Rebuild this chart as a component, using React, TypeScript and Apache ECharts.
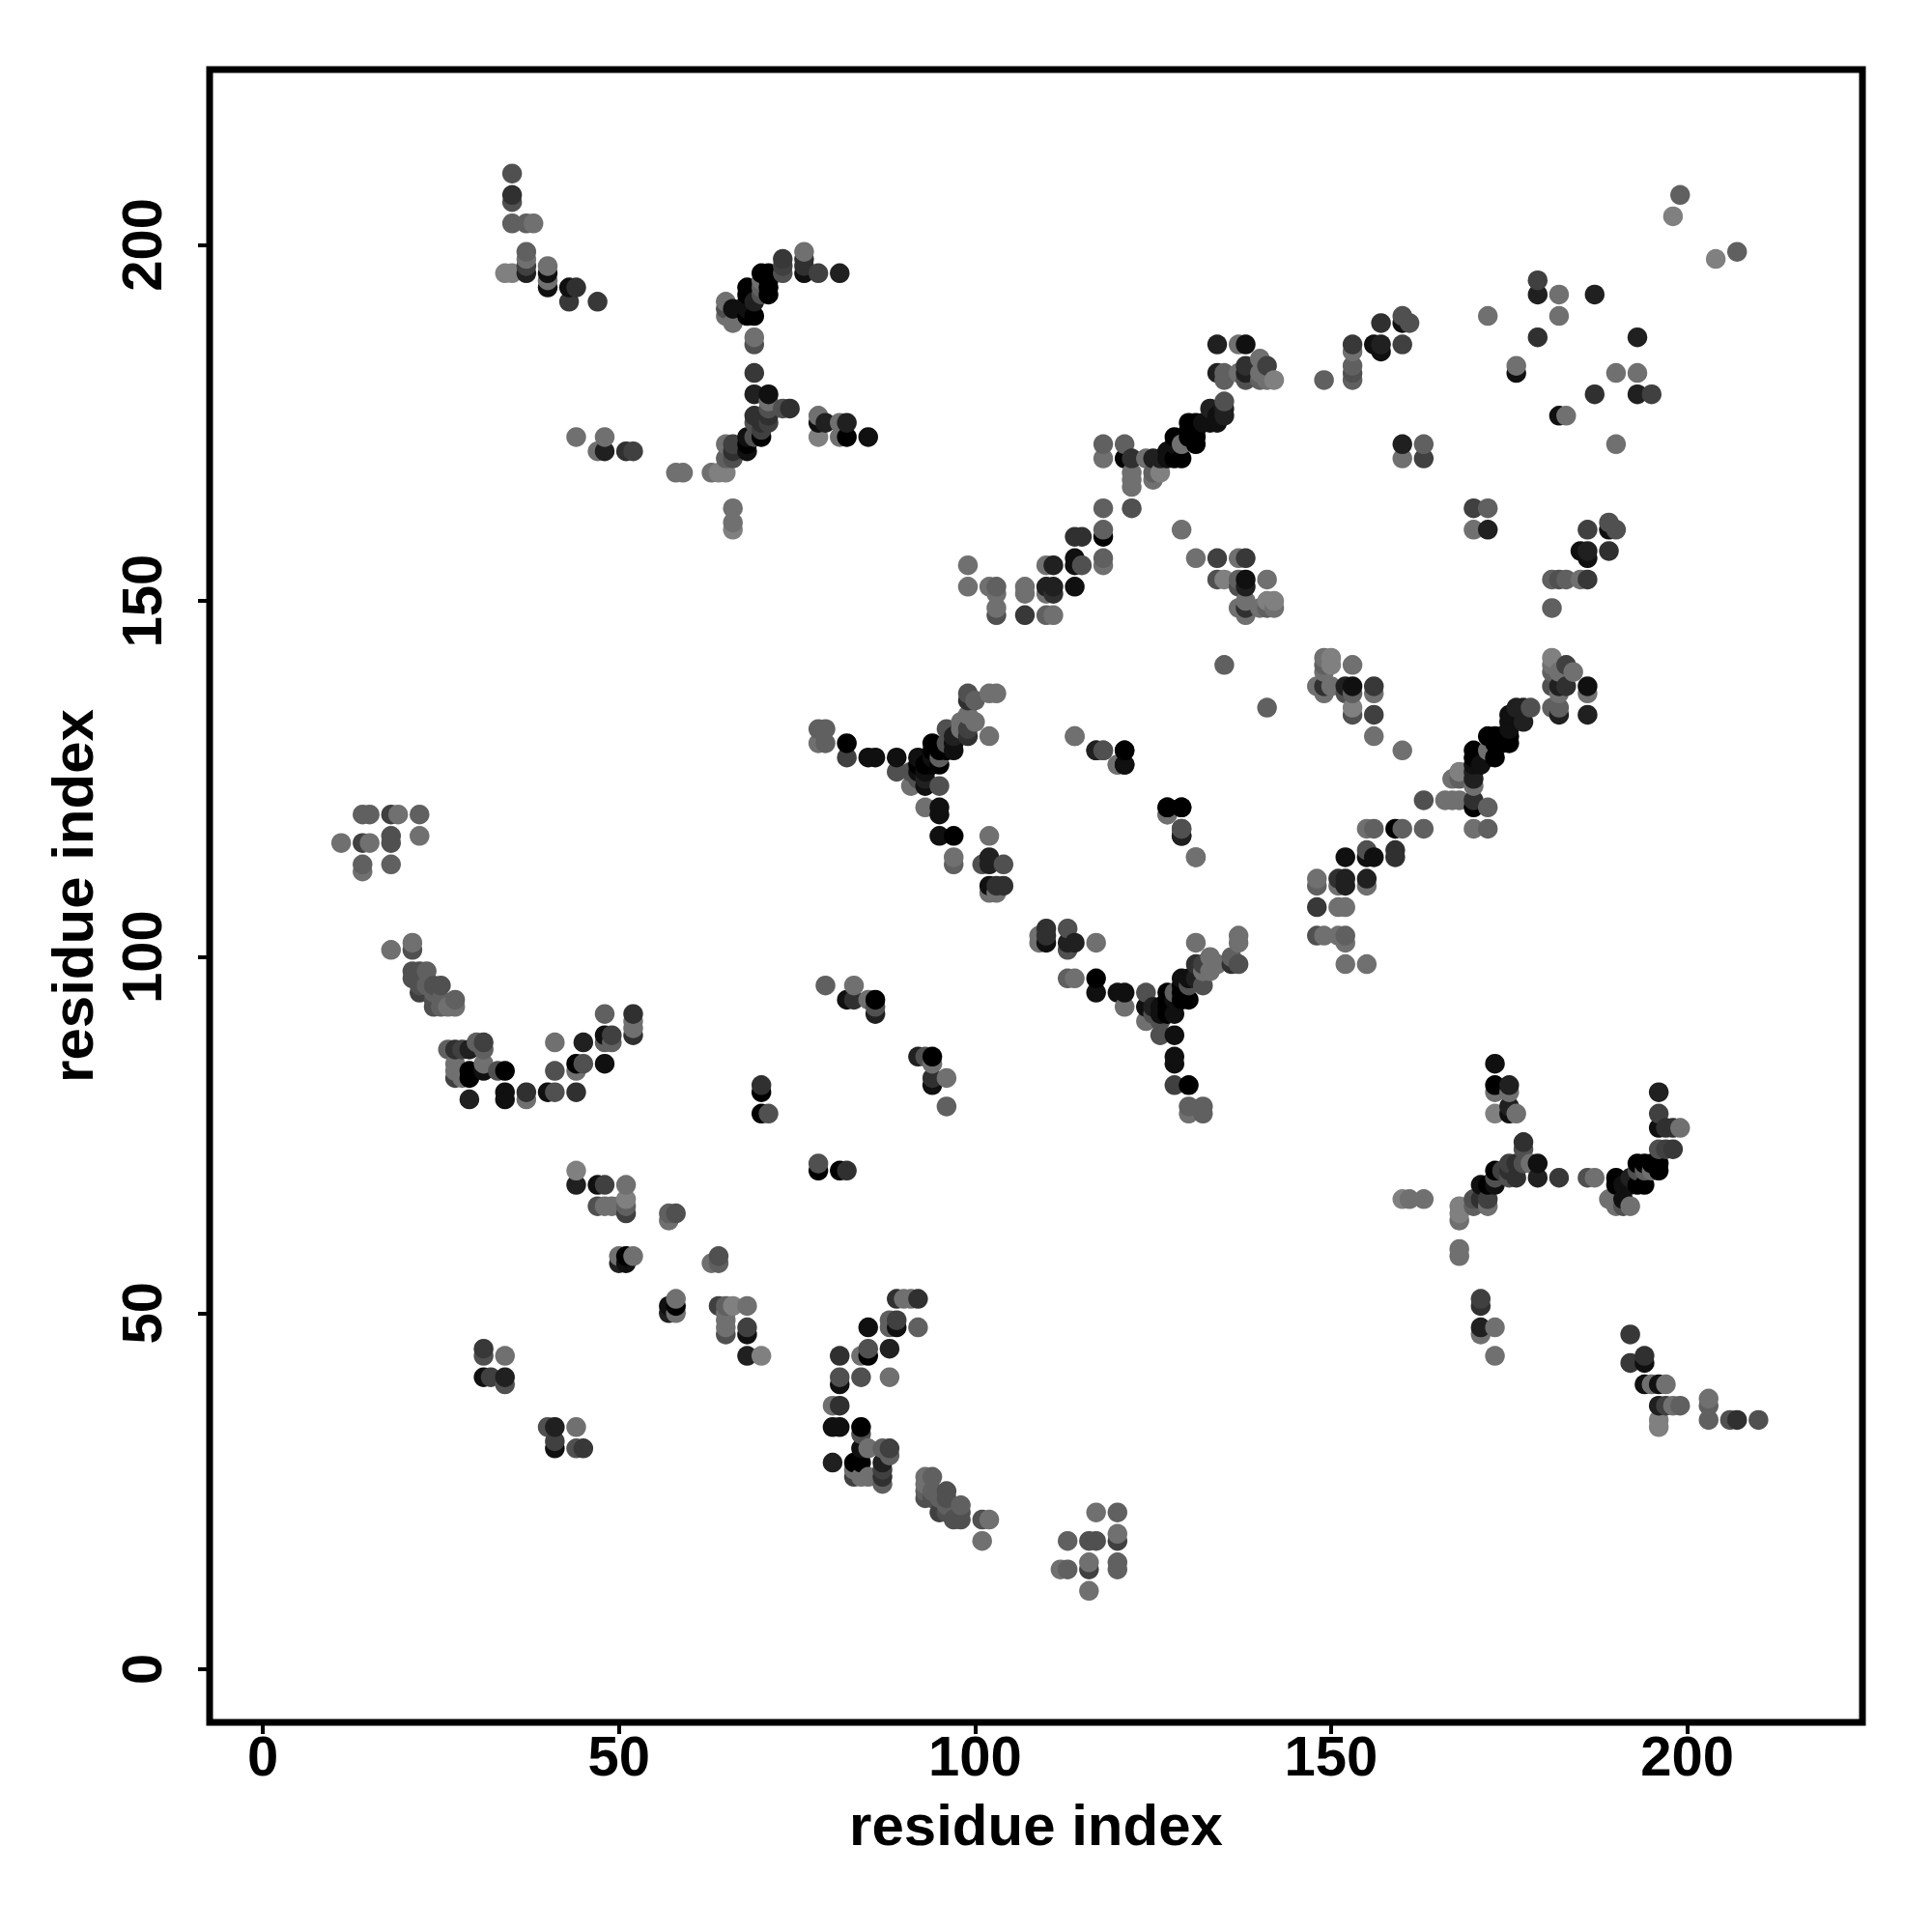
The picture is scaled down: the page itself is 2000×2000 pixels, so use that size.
import React, { useEffect, useRef } from "react";
import * as echarts from "echarts";

// Each contact: [residue i, residue j, strength 0..8]; the map is symmetric, so only i < j is listed.
const contactsBetaTop = [
  [35,210,3],[35,207,5],[35,206,3],[35,203,2],[37,203,2],[38,203,1],[37,199,2],[37,198,1],[37,197,4],[37,196,6],
  [34,196,0],[35,196,0],[40,197,1],[40,196,7],[40,195,1],[40,194,7],[43,194,7],[44,194,5],[43,192,4.5],[47,192,4.5],
];
const contactsArcUpper = [
  [73,198,4.5],[73,197,4],[73,196,3],[76,199,1],[76,198,5],[76,197,5],[76,196,7],[78,196,4],[81,196,6],
  [70,196,8],[71,196,8],[70,195,1],[71,195,8],[70,194,2],[71,194,8],[71,193,8],[70,193,3],[68,194,8],[68,193,8],
  [68,192,7],[68,191,7],[68,190,8],[69,190,8],[69,192,6],[66,191,7],[65,192,1],[65,191,3],[65,190,1],[66,189,1],
];
const contactsArcLower = [
  [69,187,1],[69,186,3],[69,182,4.5],[69,179,6],[71,179,7],[71,178,1],[71,177,3],[71,176,5],[71,175,4],[73,177,3],
  [74,177,5],[69,176,5],[69,175,3],[70,175,5],[70,174,4],[70,173,8],[68,173,7],[68,172,8],[68,171,7],[69,173,3],
  [66,172,4],[66,171,5],[66,170,3],[65,172,1],[65,170,2],[65,168,0],[64,168,0],[63,168,1],[59,168,1],[58,168,1],
  [66,163,1],[66,161,1],[66,160,0],[44,173,1],[48,173,1],[47,171,1],[48,171,6],[51,171,5],[52,171,4],[78,176,1],
  [78,175,7],[79,175,6],[78,173,0],[81,175,1],[82,175,6],[81,173,1],[82,173,8],[85,173,7],
];
const contactsDiagonalArm = [
  [134,186,6],[137,186,1],[138,186,7],[134,182,6],[135,182,2],[135,181,2],[138,183,5],[138,182,6],[138,181,3],
  [140,184,1],[141,183,4],[140,182,1],[140,181,2],[141,181,1],[142,181,0],[137,182,1],[135,178,3],[135,177,6],
  [135,176,6],[133,177,6],[134,176,7],[134,175,7],[133,175,7],[132,175,7],[131,175,8],[130,175,8],[131,174,8],
  [130,174,8],[131,173,8],[131,172,8],[130,173,8],[128,173,8],[128,172,7],[129,172,1],[127,171,7],[128,170,8],
  [129,170,8],[127,170,7],[126,170,6],[125,170,6],[124,170,1],[122,170,5],[121,170,8],[118,172,2],[121,172,2],
  [118,170,1],[122,168,1],[122,167,1],[122,166,1],[125,167,1],[125,168,2],[126,168,0],[118,163,2],[122,163,3],
];
const contactsArmBase = [
  [129,160,1],[118,160,2],[118,159,8],[114,159,5],[115,159,5],[118,156,2],[118,155,1],[114,156,7],[114,155,7],
  [115,155,3],[111,155,6],[110,155,1],[114,152,7],[111,152,6],[110,152,6],[111,151,5],[110,151,1],[107,152,1],
  [107,151,1],[107,148,4.5],[110,148,2],[111,148,1],[103,152,2],[102,152,1],[103,151,1],[103,149,1],[103,148,3],
  [99,155,1],[99,152,1],
];
const contactsPatch150 = [
  [131,156,1],[134,156,4],[137,156,1],[138,156,4.5],[134,153,3],[135,153,0],[137,153,2],[138,153,7],[138,152,6],
  [137,152,3],[141,153,1],[137,149,1],[138,150,1],[138,149,5],[138,148,1],[140,149,1],[141,149,2],[142,150,0],
  [142,149,1],[141,150,0],[135,141,2],
];
const contactsBranch125 = [
  [78,132,2],[79,132,2],[78,130,1],[79,130,2],[82,130,8],[82,128,4],[85,128,7],[86,128,7],[89,128,7],[89,126,3],
  [91,126,3],[92,128,7],[92,127,8],[92,126,7],[92,125,3],[93,127,8],[93,126,7],[93,125,6],[94,127,8],[95,127,8],
  [94,130,8],[94,129,8],[94,128,7],[95,129,8],[95,128,2],[96,130,3],[96,129,8],[97,130,7],[97,129,7],[96,132,3],
  [97,131,6],[98,132,1],[99,131,5],[99,132,4],[100,133,1],[99,134,1],[98,133,1],[102,131,1],[99,137,3],[99,136,5],
  [100,136,2],[102,137,1],[103,137,1],[93,121,1],[95,121,7],[95,120,7],[91,124,1],[93,124,7],[95,124,3],[95,117,7],
  [97,117,8],[97,114,1],[97,113,2],[102,117,1],[101,113,3],[102,114,6],[102,113,6],[104,113,3],[102,110,7],[103,110,5],
  [104,110,5],[102,109,1],[103,109,1],
];
const contactsMiddle = [
  [114,131,1],[117,129,6],[118,129,3],[121,129,8],[120,127,1],[121,127,8],[127,121,7],[129,121,8],[127,120,1],
  [129,118,3],[129,117,6],[131,114,1],[79,96,2],[83,96,1],[82,94,7],[83,94,5],[85,94,1],[86,94,8],[86,93,3],[86,92,6],
  [70,82,5],[70,81,8],[70,78,8],[71,78,3],
];
const contactsCorner = [
  [14,120,2],[15,120,2],[18,120,4],[19,120,1],[22,120,2],[11,116,1],[14,116,4],[15,116,1],[18,117,3],[18,116,3],
  [22,117,1],[14,113,2],[14,112,1],[18,113,2],
];
const contactsArcBottom = [
  [18,101,1],[21,102,1],[21,101,3],[21,98,3],[21,97,3],[22,98,3],[23,98,2],[22,96,3],[22,95,4],[23,96,2],[25,96,3],
  [24,96,3],[24,95,2],[24,94,3],[24,93,3],[25,93,2],[25,94,2],[27,94,2],[27,93,1],[26,93,1],[26,87,2],[27,87,5],
  [28,87,4],[29,87,6],[30,88,2],[31,88,4],[31,87,2],[27,85,1],[27,84,1],[27,83,4],[28,83,1],[29,84,8],[29,83,8],
  [31,85,1],[31,84,7],[33,84,3],[34,84,8],[29,80,6],[34,81,7],[34,80,7],[37,81,5],[37,80,1],[40,81,7],[41,81,3],
  [44,81,5],[41,88,1],[45,88,6],[41,84,3],[44,85,8],[45,85,3],[44,84,1],[48,85,7],[48,92,2],[48,89,7],[48,88,2],
  [49,89,4],[49,88,2],[52,92,5],[52,91,1],[52,90,1],[52,89,5],
];
const contactsNearDiagonal = [
  [44,70,0],[44,68,6],[47,68,7],[48,68,4],[51,68,1],[47,65,3],[48,65,1],[49,65,1],[50,65,1],[51,66,0],[51,65,2],
  [51,64,4],[57,64,2],[58,64,3],[57,63,1],[50,58,1],[51,58,8],[50,57,6],[51,57,7],[52,58,1],[31,45,4.5],[31,44,3],
  [34,44,1],[31,41,7],[32,41,4],[34,41,6],[34,40,3],
];
const contactsTopRight = [
  [179,195,4],[179,193,6],[182,193,1],[187,193,6],[172,190,1],[182,190,1],[179,187,5],[176,183,1],[176,182,7],
  [199,207,2],[198,204,0],[160,172,6],[163,172,2],[160,170,1],[163,170,4],[157,189,5],[160,190,3],[160,189,7],
  [161,189,3],[153,186,4.5],[153,185,1],[156,186,7],[157,186,6],[157,185,7],[160,186,4],[153,183,2],[153,182,3],
  [153,181,2],[149,181,2],
];

const tickValues = [0, 50, 100, 150, 200];
const axisTitle = "residue index";

const upperHalf = [
  ...contactsBetaTop, ...contactsArcUpper, ...contactsArcLower, ...contactsDiagonalArm, ...contactsArmBase,
  ...contactsPatch150, ...contactsBranch125, ...contactsMiddle, ...contactsCorner, ...contactsArcBottom,
  ...contactsNearDiagonal, ...contactsTopRight,
];
const allContacts = [...upperHalf, ...upperHalf.map(([i, j, s]) => [j, i, s])].sort(
  (a, b) => a[0] - b[0] || a[1] - b[1],
);

const FONT = "Liberation Sans";

function axisCommon(rotate: number) {
  return {
    type: "value" as const,
    min: -7.47,
    max: 224.6,
    name: axisTitle,
    nameLocation: "middle" as const,
    nameMoveOverlap: false,
    nameTextStyle: { fontFamily: FONT, fontWeight: "bold" as const, fontSize: 60, color: "#000" },
    axisLine: { show: false, onZero: false },
    splitLine: { show: false },
    axisTick: {
      show: true,
      length: 12,
      customValues: tickValues,
      lineStyle: { color: "#000", width: 4 },
    },
    axisLabel: {
      show: true,
      rotate,
      customValues: tickValues,
      fontFamily: FONT,
      fontWeight: "bold" as const,
      fontSize: 58,
      color: "#000",
    },
  };
}

export default function App() {
  const ref = useRef<HTMLDivElement>(null);
  useEffect(() => {
    const chart = echarts.init(ref.current!, undefined, { renderer: "svg" });
    const x = axisCommon(0);
    const y = axisCommon(90);
    chart.setOption({
      animation: false,
      backgroundColor: "#fff",
      grid: {
        left: 217,
        top: 72,
        width: 1711,
        height: 1711,
        show: true,
        borderColor: "#000",
        borderWidth: 7,
        backgroundColor: "transparent",
      },
      xAxis: { ...x, position: "bottom", nameGap: 76, axisLabel: { ...x.axisLabel, margin: 5 } },
      yAxis: { ...y, position: "left", nameGap: 112, axisLabel: { ...y.axisLabel, margin: 42 } },
      visualMap: {
        show: false,
        type: "continuous",
        dimension: 2,
        min: 0,
        max: 8,
        seriesIndex: 0,
        inRange: { color: ["#808080", "#000000"] },
      },
      series: [
        {
          type: "scatter",
          data: allContacts,
          symbol: "circle",
          symbolSize: 20.5,
          silent: true,
          itemStyle: { opacity: 1 },
          encode: { x: 0, y: 1 },
        },
      ],
    });
    return () => chart.dispose();
  }, []);
  return (
    <div
      ref={ref}
      style={{ position: "absolute", left: 0, top: 0, width: 2000, height: 2000, background: "#fff" }}
    />
  );
}
